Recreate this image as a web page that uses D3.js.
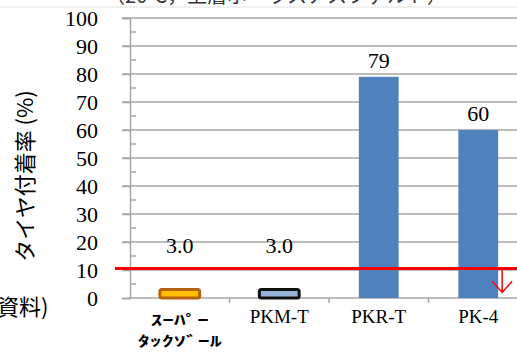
<!DOCTYPE html>
<html><head><meta charset="utf-8">
<script src="https://cdn.jsdelivr.net/npm/d3@7"></script>
<style>html,body{margin:0;padding:0;background:#fff;overflow:hidden}</style>
</head><body>
<script>
const categories = ["SP", "PKM-T", "PKR-T", "PK-4"];
const labelLines = [["ｽｰﾊﾟｰ", "ﾀｯｸｿﾞｰﾙ"], ["PKM-T"], ["PKR-T"], ["PK-4"]];
const values = [3.0, 3.0, 79, 60];
const valueLabels = ["3.0", "3.0", "79", "60"];
const yTicks = [0, 10, 20, 30, 40, 50, 60, 70, 80, 90, 100];
const minorTicks = [5, 15, 25, 35, 45, 55, 65, 75, 85, 95];
const threshold = 10;
const fills = ["#FFC000", "#95B3D7", "#4F81BD", "#4F81BD"];
const strokes = ["#B5620C", "#111111", "none", "none"];
const titleText = "（20℃，上層ポーラスアスファルト）";
const yTitle = "タイヤ付着率 (%)";
const sourceText = "資料)";

const SERIF = "'Liberation Serif', 'DejaVu Serif', serif";
const W = 517, H = 352;
const svg = d3.select("body").append("svg").attr("width", W).attr("height", H);

const x = d3.scaleBand().domain(categories).range([130, 528]).paddingInner(0.6).paddingOuter(0.3);
const y = d3.scaleLinear().domain([0, 100]).range([298, 18]);

// top faint line and clipped title
svg.append("line").attr("x1", 0).attr("x2", W).attr("y1", 7).attr("y2", 7)
  .attr("stroke", "#e2e2e2").attr("stroke-width", 1);
svg.append("text").attr("x", 276).attr("y", 3).attr("text-anchor", "middle")
  .attr("font-family", "Noto Sans CJK JP").attr("font-size", 20).attr("fill", "#333")
  .text(titleText);

// gridlines
svg.append("g").selectAll("line").data(yTicks.filter(d => d > 0)).join("line")
  .attr("x1", 122).attr("x2", W).attr("y1", d => y(d)).attr("y2", d => y(d))
  .attr("stroke", "#a6a6a6").attr("stroke-width", 1.5);

// y axis
const yAxis = d3.axisLeft(y).tickValues(yTicks).tickSize(8).tickPadding(24).tickFormat(d3.format("d"));
const gy = svg.append("g").attr("transform", "translate(130,0)").call(yAxis);
gy.select(".domain").attr("stroke", "#a6a6a6").attr("stroke-width", 1.5);
gy.selectAll(".tick line").attr("stroke", "#a6a6a6").attr("stroke-width", 1.5);
gy.selectAll(".tick text").attr("font-family", SERIF).attr("font-size", 22).attr("fill", "#000");
svg.append("g").selectAll("line").data(minorTicks).join("line")
  .attr("x1", 130).attr("x2", 136).attr("y1", d => y(d)).attr("y2", d => y(d))
  .attr("stroke", "#a6a6a6").attr("stroke-width", 1.5);

// x axis
svg.append("line").attr("x1", 130).attr("x2", W).attr("y1", y(0)).attr("y2", y(0))
  .attr("stroke", "#a6a6a6").attr("stroke-width", 1.5);
svg.append("g").selectAll("line").data(categories.slice(0, 3)).join("line")
  .attr("x1", d => x(d) + x.bandwidth() + x.step() * 0.3).attr("x2", d => x(d) + x.bandwidth() + x.step() * 0.3)
  .attr("y1", y(0)).attr("y2", y(0) + 5)
  .attr("stroke", "#a6a6a6").attr("stroke-width", 1.5);

// bars
svg.append("g").selectAll("rect").data(categories).join("rect")
  .attr("x", d => x(d)).attr("width", x.bandwidth())
  .attr("y", (d, i) => y(values[i])).attr("height", (d, i) => y(0) - y(values[i]))
  .attr("rx", (d, i) => strokes[i] === "none" ? 0 : 2)
  .attr("fill", (d, i) => fills[i])
  .attr("stroke", (d, i) => strokes[i]).attr("stroke-width", 3);

// value labels
svg.append("g").selectAll("text").data(categories).join("text")
  .attr("x", d => x(d) + x.bandwidth() / 2)
  .attr("y", (d, i) => y(Math.max(values[i], 13)) - 9)
  .attr("text-anchor", "middle").attr("font-family", SERIF).attr("font-size", 22)
  .text((d, i) => valueLabels[i]);

// category labels
categories.forEach((c, i) => {
  const cx = x(c) + x.bandwidth() / 2;
  if (labelLines[i].length === 2) {
    const lens = [58, 84];
    labelLines[i].forEach((t, k) => {
      svg.append("text").attr("x", cx - lens[k] / 2).attr("y", 325 + k * 21)
        .attr("font-family", "Noto Sans CJK JP").attr("font-weight", "bold").attr("font-size", 14)
        .attr("textLength", lens[k]).attr("lengthAdjust", "spacingAndGlyphs")
        .text(t);
    });
  } else {
    svg.append("text").attr("x", cx).attr("y", 323).attr("text-anchor", "middle")
      .attr("font-family", SERIF).attr("font-size", 19).text(labelLines[i][0]);
  }
});

// threshold line and arrow
svg.append("line").attr("x1", 115).attr("x2", W).attr("y1", y(threshold) - 1.5).attr("y2", y(threshold) - 1.5)
  .attr("stroke", "#FF0000").attr("stroke-width", 3);
const ax = x("PK-4") + x.bandwidth() + 4;
svg.append("path")
  .attr("d", `M${ax},${y(threshold)} L${ax},${y(2)} M${ax - 10},${y(6)} L${ax},${y(2)} L${ax + 10},${y(6)}`)
  .attr("fill", "none").attr("stroke", "#FF0000").attr("stroke-width", 1.5);

// y title
svg.append("text").attr("transform", "translate(23,176) rotate(-90)")
  .attr("text-anchor", "middle").attr("dominant-baseline", "central")
  .attr("font-family", "Noto Sans CJK JP").attr("font-size", 22).text(yTitle);

// source text
svg.append("text").attr("x", -3).attr("y", 315)
  .attr("font-family", "Noto Sans CJK JP").attr("font-size", 22).text(sourceText);
</script>
</body></html>
